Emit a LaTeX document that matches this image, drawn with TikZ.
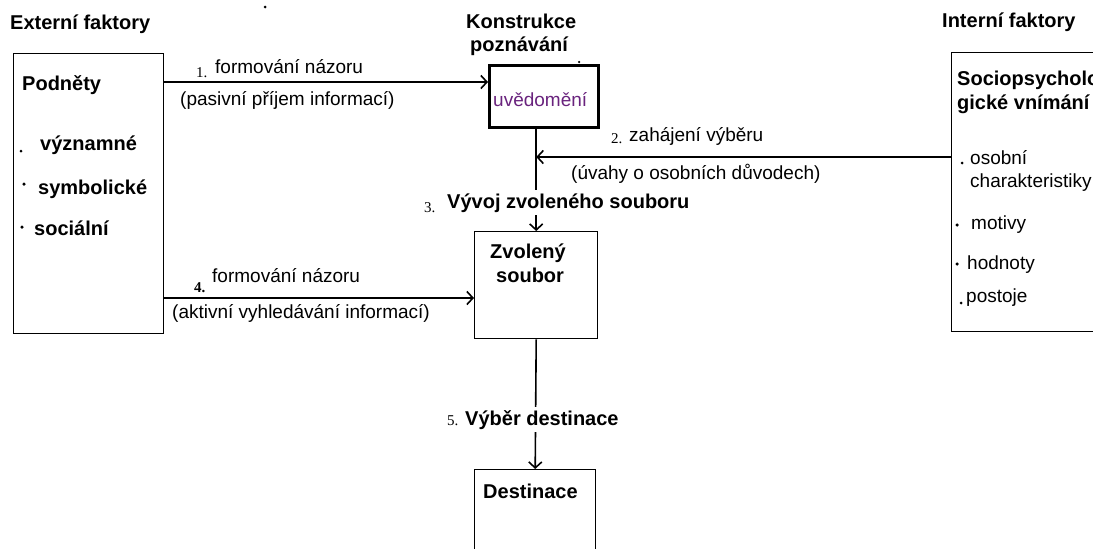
\documentclass[tikz,border=0pt]{standalone}
\usepackage{fontspec}
\setmainfont{Liberation Sans}
\newfontfamily\numfont{Liberation Serif}
\usetikzlibrary{arrows.meta}
\definecolor{uvcol}{RGB}{105,35,125}
\begin{document}
\begin{tikzpicture}[x=1pt,y=-1pt,
  box/.style={draw, line width=1.4pt, inner sep=0pt},
  thickbox/.style={draw, line width=2.6pt, inner sep=0pt},
  lbl/.style={inner sep=0pt, anchor=base west, font=\fontsize{19}{22}\selectfont},
  blbl/.style={inner sep=0pt, anchor=base west, font=\fontsize{20}{24}\selectfont\bfseries},
  num/.style={inner sep=0pt, anchor=base west, font=\fontsize{15}{17}\selectfont\numfont},
  arr/.style={line width=1.6pt, -{Straight Barb[length=6pt,width=13pt]}},
  dotb/.style={fill, circle, inner sep=0pt, minimum size=3.5pt},
  gap/.style={fill=white, inner xsep=0pt, inner ysep=3pt},
]
\useasboundingbox (0,0) rectangle (1093,549);

% stray marks
\node[dotb, minimum size=3pt] (m1) at (265,7) {};

% headers
\node[blbl] (ext) at (10,29) {Externí faktory};
\node[blbl] (int) at (942,27) {Interní faktory};
\node[blbl] (kon1) at (466,28) {Konstrukce};
\node[blbl] (kon2) at (470,51) {poznávání};

% boxes
\node[box, anchor=north west, minimum width=150pt, minimum height=280pt] (pod) at (13,53) {};
\node[thickbox, anchor=north west, minimum width=109pt, minimum height=62pt] (uv) at (488,64) {};
\node[box, anchor=north west, minimum width=123pt, minimum height=107pt] (zv) at (474,231) {};
\node[box, anchor=north west, minimum width=121pt, minimum height=110pt] (de) at (474,469) {};
\node[box, anchor=north west, minimum width=170pt, minimum height=279pt] (soc) at (951,52) {};
\node[dotb, minimum size=2.5pt] (m2) at (579,62) {};

% left box content
\node[blbl] (podn) at (22,90) {Podněty};
\node[dotb, minimum size=3pt] (b1) at (21,151) {};
\node[blbl] (t1) at (40,150) {významné};
\node[dotb] (b2) at (24,184) {};
\node[blbl] (t2) at (38,194) {symbolické};
\node[dotb] (b3) at (22,227) {};
\node[blbl] (t3) at (34,235) {sociální};

% right box content
\node[blbl] (s1) at (957,85) {Sociopsycholo};
\node[blbl] (s2) at (957,109) {gické vnímání};
\node[dotb, minimum size=3pt] (r1) at (962,163) {};
\node[lbl] (rt1) at (970,164) {osobní};
\node[lbl] (rt1b) at (970,187) {charakteristiky};
\node[dotb] (r2) at (957,225) {};
\node[lbl] (rt2) at (971,229) {motivy};
\node[dotb] (r3) at (957,264) {};
\node[lbl] (rt3) at (967,269) {hodnoty};
\node[dotb, minimum size=3pt] (r4) at (961,303) {};
\node[lbl] (rt4) at (966,302) {postoje};

% inner box texts
\node[lbl, text=uvcol] (uvt) at (493,106) {uvědomění};
\node[blbl] (zv1) at (490,258) {Zvolený};
\node[blbl] (zv2) at (496,282) {soubor};
\node[blbl] (det) at (483,498) {Destinace};

% helper levels
\coordinate (y1) at (0,82);
\coordinate (y2) at (0,157);
\coordinate (y4) at (0,298);

% connectors
\draw[arr] (pod.east |- y1) -- (uv.west |- y1);
\draw[arr] (soc.west |- y2) -- (zv.north |- y2);
\draw[arr] (zv.north |- uv.south) -- (zv.north);
\draw[arr] (pod.east |- y4) -- (zv.west |- y4);
\draw[arr] (zv.south) -- (de.north);

% connector labels
\node[num] (n1) at (196,77) {1.};
\node[lbl] (l1a) at (215,73) {formování názoru};
\node[lbl] (l1b) at (180,105) {(pasivní příjem informací)};

\node[num] (n2) at (611,143) {2.};
\node[lbl] (l2a) at (629,141) {zahájení výběru};
\node[lbl] (l2b) at (571,179) {(úvahy o osobních důvodech)};

\node[num] (n3) at (424,212) {3.};
\node[blbl, gap] (l3) at (447,208) {Vývoj zvoleného souboru};

\node[num, font=\fontsize{15}{17}\selectfont\numfont\bfseries] (n4) at (194,292) {4.};
\node[lbl] (l4a) at (212,282) {formování názoru};
\node[lbl] (l4b) at (172,318) {(aktivní vyhledávání informací)};

\node[num] (n5) at (447,425) {5.};
\node[blbl, gap] (l5) at (465,425) {Výběr destinace};
\end{tikzpicture}
\end{document}
